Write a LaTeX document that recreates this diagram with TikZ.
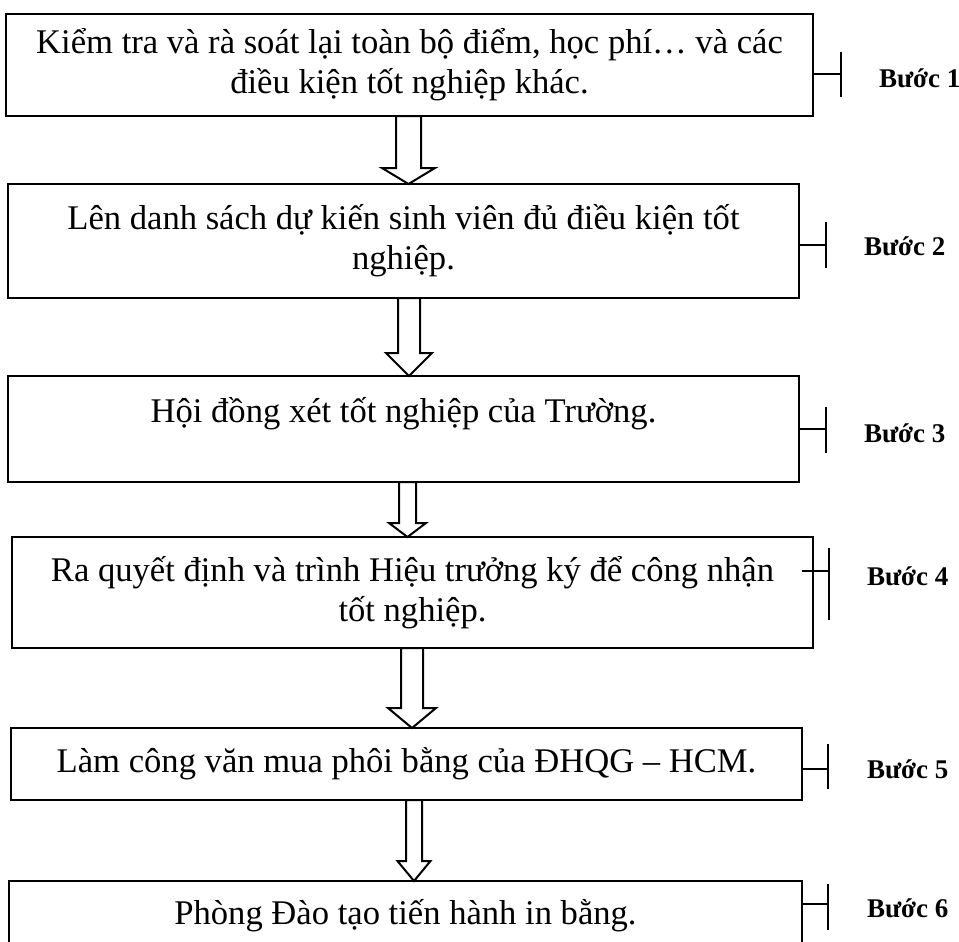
\documentclass[tikz,border=0pt]{standalone}
\usepackage{fontspec}
\setmainfont{Liberation Serif}
\usetikzlibrary{calc}
\tikzset{
  stepbox/.style={draw, rectangle, inner sep=0pt, outer sep=0pt, align=center,
    font=\fontsize{17.3}{20}\selectfont},
  steplabel/.style={anchor=base west, inner sep=0pt, font=\fontsize{13.5}{15}\selectfont\bfseries},
  hollow/.style={draw, fill=white, line join=miter}
}
\begin{document}
\begin{tikzpicture}[x=0.5pt, y=-0.5pt, line width=1pt]
  \clip (0,0) rectangle (959,942);
  % steps
  \node[stepbox, minimum width=403.5pt, minimum height=51pt] (b1) at (409.5,65)
    {Kiểm tra và rà soát lại toàn bộ điểm, học phí… và các\\điều kiện tốt nghiệp khác.};
  \node[stepbox, minimum width=395.5pt, minimum height=57pt] (b2) at (403.5,241)
    {Lên danh sách dự kiến sinh viên đủ điều kiện tốt\\nghiệp.};
  \node[stepbox, minimum width=395.5pt, minimum height=53pt] (b3) at (403.5,429)
    {Hội đồng xét tốt nghiệp của Trường.\\[-7pt]\strut};
  \node[stepbox, minimum width=400.5pt, minimum height=55.5pt] (b4) at (412.5,592.5)
    {Ra quyết định và trình Hiệu trưởng ký để công nhận\\tốt nghiệp.};
  \node[stepbox, minimum width=395.5pt, minimum height=36pt] (b5) at (406.5,764)
    {Làm công văn mua phôi bằng của ĐHQG – HCM.};
  \node[stepbox, minimum width=396.5pt, minimum height=34.5pt] (b6) at (405.5,915.5)
    {Phòng Đào tạo tiến hành in bằng.};

  % hollow arrows between steps
  \foreach \a/\b/\c/\s/\h/\l in {b1/b2/408.5/12.5/26.5/16, b2/b3/409/11/23/23,
      b3/b4/407.5/8.5/18.5/14, b4/b5/412/11/24/20, b5/b6/414/8/16.5/20}
    \draw[hollow] (\c-\s,0 |- \a.south) -- ($(\c-\s,0 |- \b.north)+(0,-\l)$)
      -- ($(\c-\h,0 |- \b.north)+(0,-\l)$) -- (\c,0 |- \b.north)
      -- ($(\c+\h,0 |- \b.north)+(0,-\l)$) -- ($(\c+\s,0 |- \b.north)+(0,-\l)$)
      -- (\c+\s,0 |- \a.south) -- cycle;

  % step labels
  \node[steplabel] (s1) at (878,87) {Bước 1};
  \node[steplabel] (s2) at (863,255) {Bước 2};
  \node[steplabel] (s3) at (863,442) {Bước 3};
  \node[steplabel] (s4) at (866,585) {Bước 4};
  \node[steplabel] (s5) at (866,778) {Bước 5};
  \node[steplabel] (s6) at (866,917) {Bước 6};
  \coordinate (k1) at (841,74);
  \coordinate (k2) at (826,245);
  \coordinate (k3) at (826,429);
  \coordinate (k4) at (829,571);
  \coordinate (k5) at (828,769);
  \coordinate (k6) at (828,904);
  \foreach \i/\o/\u/\d in {1/0/22/23, 2/0/23/23, 3/0/22/24, 4/-11/23/49, 5/0/25/20, 6/0/20/26} {
    \draw ($(b\i.east |- k\i)+(\o,0)$) -- (k\i);
    \draw ($(k\i)+(0,-\u)$) -- ($(k\i)+(0,\d)$);
  }
\end{tikzpicture}
\end{document}
